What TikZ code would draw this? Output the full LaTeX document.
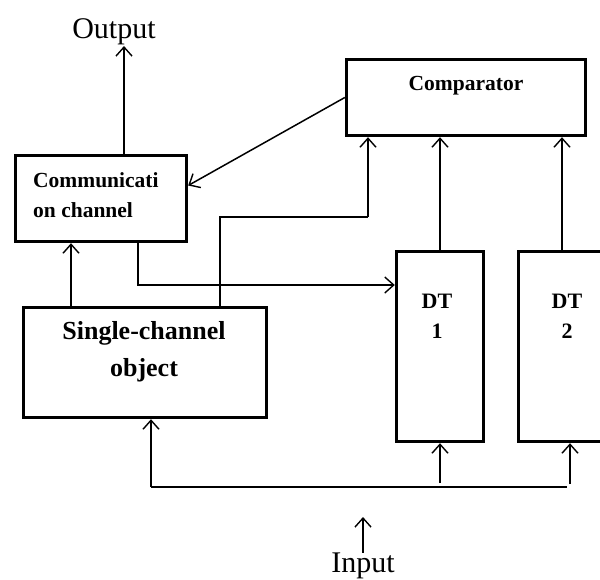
\documentclass[tikz,border=0pt]{standalone}
\usepackage{fontspec}
\setmainfont{Liberation Serif}
\usetikzlibrary{arrows.meta}
\begin{document}
\begin{tikzpicture}[x=1pt,y=-1pt,
  box/.style={draw,line width=3.4pt,inner sep=0pt,minimum width=#1},
  lbl/.style={inner sep=0pt,font=\bfseries},
  arr/.style={line width=1.5pt,-{Straight Barb[length=9pt,width=16pt,line width=1.4pt]}},
  ln/.style={line width=1.5pt}]
\useasboundingbox (0,0) rectangle (600,579);
% boxes
\node[box=171pt,minimum height=86pt] (comm) at (101,198.5) {};
\node[box=239pt,minimum height=76pt] (comp) at (466,97.5) {};
\node[box=243pt,minimum height=110pt] (single) at (145,362.5) {};
\node[box=87pt,minimum height=190pt] (dt1) at (440,346.5) {};
\node[box=87pt,minimum height=190pt] (dt2) at (562,346.5) {};
% labels
\node[lbl,font=\fontsize{21.5}{30}\selectfont\bfseries] (compl) at (466,86) {Comparator};
\node[lbl,anchor=west,align=left,font=\fontsize{21.5}{30}\selectfont\bfseries] (comml) at (33,195) {Communicati\\on channel};
\node[lbl,align=center,font=\fontsize{26}{37}\selectfont\bfseries] (singlel) at (144,352) {Single-channel\\object};
\node[lbl,align=center,font=\fontsize{22}{30}\selectfont\bfseries] (dt1l) at (437,316) {DT\\1};
\node[lbl,align=center,font=\fontsize{22}{30}\selectfont\bfseries] (dt2l) at (567,316) {DT\\2};
\node[inner sep=0pt,font=\fontsize{30}{36}\selectfont] (output) at (114,32) {Output};
\node[inner sep=0pt,font=\fontsize{30}{36}\selectfont] (input) at (363,566) {Input};
% coordinates
\coordinate (outtip) at (124,46);
\coordinate (intip) at (363,517);
\coordinate (busL) at (151,487);
\coordinate (busR) at (567,487);
\coordinate (c1) at (138,285);
\coordinate (c2) at (220,217);
\coordinate (c3) at (368,217);
% connectors
\draw[arr] (comm.north -| outtip) -- (outtip);
\draw[arr] (comp.west) -- ([yshift=13pt]comm.east);
\draw[arr] (single.north -| 71,0) -- (comm.south -| 71,0);
\draw[arr] (comm.south -| c1) -- (c1) -- (dt1.west |- c1);
\draw[ln] (single.north -| c2) -- (c2) -- (c3);
\draw[arr] (c3) -- (comp.south -| c3);
\draw[arr] (dt1.north) -- (comp.south -| dt1.north);
\draw[arr] (dt2.north) -- (comp.south -| dt2.north);
\draw[ln] (busL) -- (busR);
\draw[arr] (busL) -- (single.south -| busL);
\draw[arr] (dt1.south |- 0,483) -- (dt1.south);
\draw[arr] (570,484) -- (dt2.south -| 570,0);
\draw[arr] (input.north) -- (intip);
\end{tikzpicture}
\end{document}
